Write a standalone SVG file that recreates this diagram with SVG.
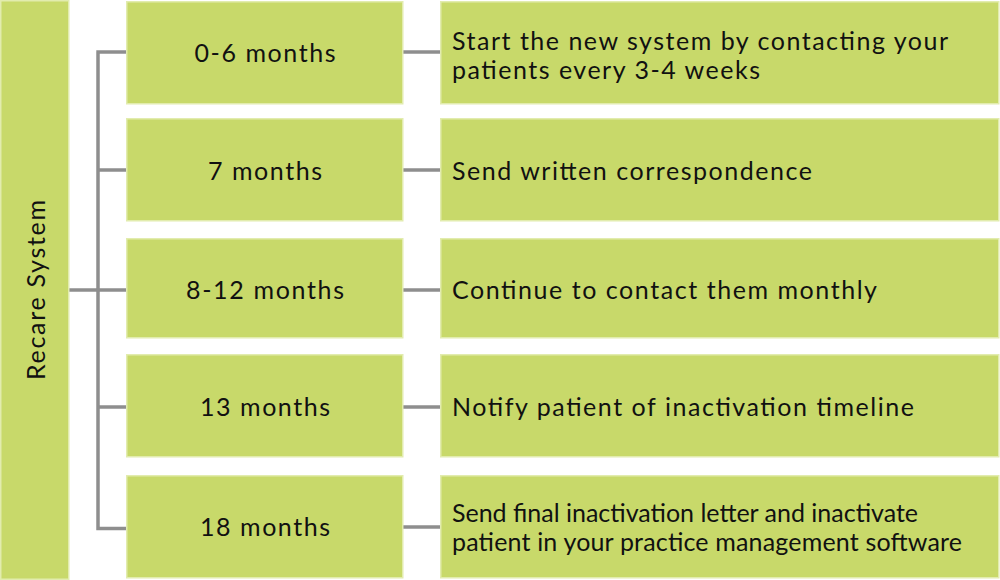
<svg xmlns="http://www.w3.org/2000/svg" width="1000" height="580" viewBox="0 0 1000 580">
<style>
.box{fill:#c8d96a;stroke:#e2ecae;stroke-width:1.5}
.t{font-family:Lato,"Liberation Sans",sans-serif;font-size:25px;fill:#111}
.c{text-anchor:middle}
.ln{stroke:#8e8e8e;stroke-width:3.5;fill:none}
</style>
<rect width="1000" height="580" fill="#fff"/>
<g id="connectors">
<path class="ln" d="M98 52V530M96.3 52H126M96.3 528.5H126M98 170H126M69 290H126M98 407H126M403 52H440M403 170H440M403 290H440M403 407H440M403 527H440"/>
</g>
<g id="root">
<rect class="box" x="0.75" y="0.75" width="68" height="578.5"/>
<text class="t c" transform="translate(45 290) rotate(-90)" textLength="180" lengthAdjust="spacing">Recare System</text>
</g>
<g id="r1">
<rect class="box" x="126.75" y="1.75" width="276" height="102"/>
<text class="t c" x="265" y="62" textLength="141" lengthAdjust="spacing">0-6 months</text>
</g>
<g id="d1">
<rect class="box" x="440.75" y="1.75" width="558" height="102"/>
<text class="t" x="452" y="50" textLength="496" lengthAdjust="spacing">Start the new system by contacting your</text>
<text class="t" x="452" y="79" textLength="308" lengthAdjust="spacing">patients every 3-4 weeks</text>
</g>
<g id="r2">
<rect class="box" x="126.75" y="118.75" width="276" height="102"/>
<text class="t c" x="265" y="180" textLength="114" lengthAdjust="spacing">7 months</text>
</g>
<g id="d2">
<rect class="box" x="440.75" y="118.75" width="558" height="102"/>
<text class="t" x="452" y="180" textLength="360" lengthAdjust="spacing">Send written correspondence</text>
</g>
<g id="r3">
<rect class="box" x="126.75" y="238.75" width="276" height="99"/>
<text class="t c" x="265" y="299" textLength="158" lengthAdjust="spacing">8-12 months</text>
</g>
<g id="d3">
<rect class="box" x="440.75" y="238.75" width="558" height="99"/>
<text class="t" x="452" y="299" textLength="425" lengthAdjust="spacing">Continue to contact them monthly</text>
</g>
<g id="r4">
<rect class="box" x="126.75" y="354.75" width="276" height="102"/>
<text class="t c" x="265" y="416" textLength="130" lengthAdjust="spacing">13 months</text>
</g>
<g id="d4">
<rect class="box" x="440.75" y="354.75" width="558" height="102"/>
<text class="t" x="452" y="416" textLength="462" lengthAdjust="spacing">Notify patient of inactivation timeline</text>
</g>
<g id="r5">
<rect class="box" x="126.75" y="475.75" width="276" height="102"/>
<text class="t c" x="265" y="536" textLength="130" lengthAdjust="spacing">18 months</text>
</g>
<g id="d5">
<rect class="box" x="440.75" y="475.75" width="558" height="102"/>
<text class="t" x="452" y="522" textLength="466" lengthAdjust="spacing">Send final inactivation letter and inactivate</text>
<text class="t" x="452" y="551" textLength="510" lengthAdjust="spacing">patient in your practice management software</text>
</g>
</svg>
